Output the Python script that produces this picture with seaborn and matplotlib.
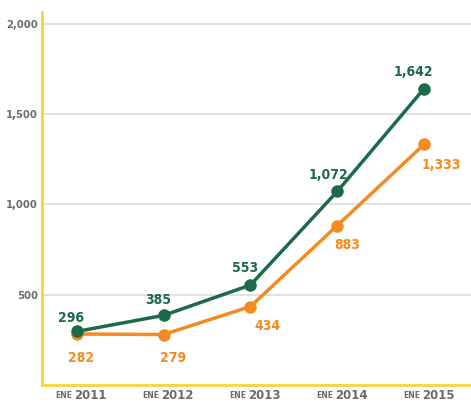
import matplotlib
matplotlib.use("Agg")
import matplotlib.pyplot as plt
import seaborn as sns
import pandas as pd

years = ["2011", "2012", "2013", "2014", "2015"]
green_values = [296, 385, 553, 1072, 1642]
orange_values = [282, 279, 434, 883, 1333]
y_ticks = [500, 1000, 1500, 2000]
y_tick_labels = ["500", "1,000", "1,500", "2,000"]

GREEN = "#1d6a48"
ORANGE = "#f58a1f"
YELLOW = "#f9d43a"
GRAY = "#6b6b6b"

df = pd.DataFrame({
    "x": list(range(len(years))) * 2,
    "value": green_values + orange_values,
    "serie": ["verde"] * len(years) + ["naranja"] * len(years),
})

sns.set_style("white")
plt.rcParams["font.family"] = ["DejaVu Sans"]

fig = plt.figure(figsize=(4.71, 4.03), dpi=100)
ax = fig.add_axes([0.089, 0.045, 0.911, 0.925])

sns.lineplot(data=df, x="x", y="value", hue="serie",
             palette={"verde": GREEN, "naranja": ORANGE},
             hue_order=["naranja", "verde"],
             marker="o", markersize=9, markeredgewidth=0, linewidth=2.5,
             legend=False, ax=ax, zorder=3)

ax.set_ylim(0, 2066)
ax.set_xlim(-0.4, 4.54)
ax.set_yticks(y_ticks)
ax.set_yticklabels(y_tick_labels, color=GRAY, fontsize=8, fontweight="bold",
                   fontstretch="condensed")
ax.yaxis.grid(True, color="#dddddd", linewidth=1.2)
ax.set_axisbelow(True)
ax.tick_params(axis="y", length=0, pad=3)
ax.set_xticks(range(len(years)))
ax.set_xticklabels([""] * len(years))
ax.tick_params(axis="x", length=0)
ax.set_xlabel("")
ax.set_ylabel("")

for s in ["top", "right"]:
    ax.spines[s].set_visible(False)
for s in ["left", "bottom"]:
    ax.spines[s].set_color(YELLOW)
    ax.spines[s].set_linewidth(2)

for i, yr in enumerate(years):
    ax.annotate("ENE", xy=(i, 0), xycoords=("data", "axes fraction"),
                xytext=(-3, -8), textcoords="offset points",
                ha="right", va="center", fontsize=5.5, fontweight="bold", color=GRAY)
    ax.annotate(yr, xy=(i, 0), xycoords=("data", "axes fraction"),
                xytext=(-1.5, -8), textcoords="offset points",
                ha="left", va="center", fontsize=8.5, fontweight="bold", color=GRAY)

green_off = [(-4, 10), (-4, 11), (-4, 12), (-6, 12), (-8, 12)]
orange_off = [(3, -17), (7, -17), (12, -14), (7, -14), (12, -15)]

for i, v in enumerate(green_values):
    ax.annotate(f"{v:,}", xy=(i, v), xytext=green_off[i], textcoords="offset points",
                ha="center", va="center", fontsize=10, fontweight="bold", color=GREEN,
                fontstretch="condensed")
for i, v in enumerate(orange_values):
    ax.annotate(f"{v:,}", xy=(i, v), xytext=orange_off[i], textcoords="offset points",
                ha="center", va="center", fontsize=10, fontweight="bold", color=ORANGE,
                fontstretch="condensed")

fig.savefig("out.png", dpi=100)
